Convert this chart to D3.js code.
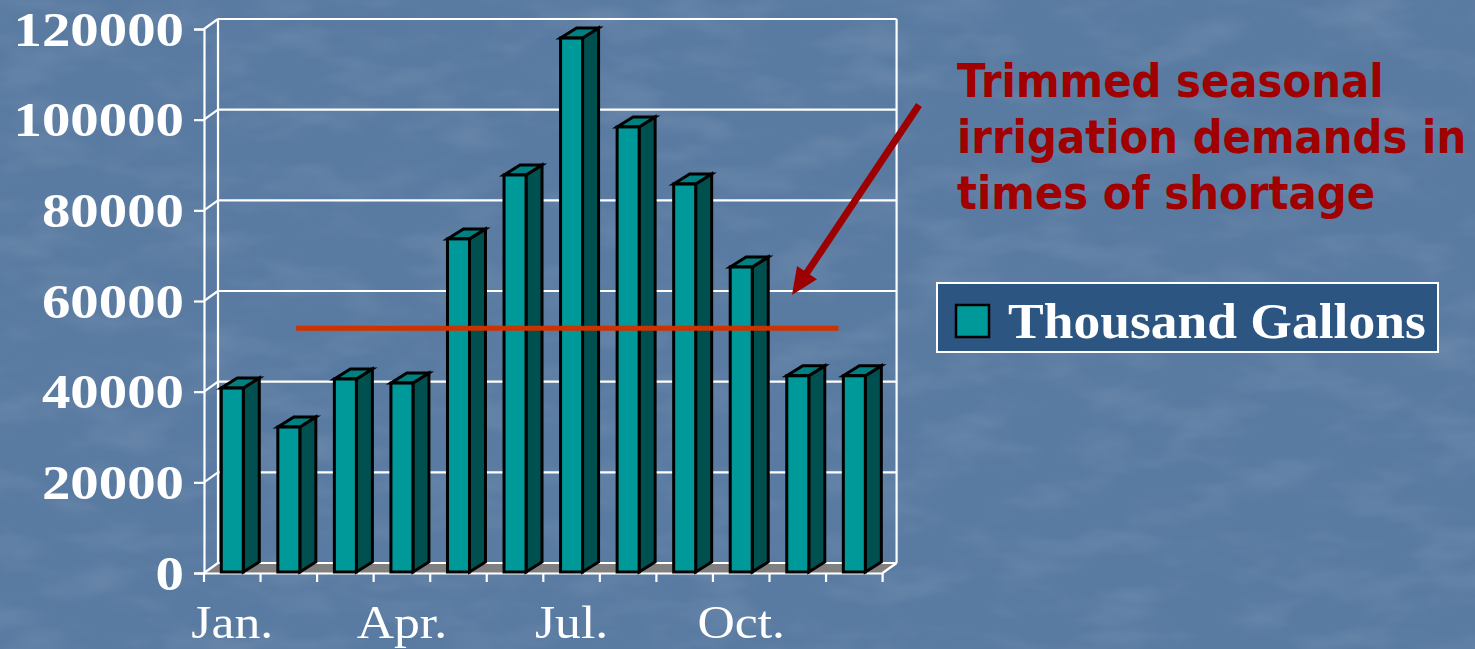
<!DOCTYPE html>
<html>
<head>
<meta charset="utf-8">
<script src="https://cdn.jsdelivr.net/npm/d3@7"></script>
<style>
  html, body { margin: 0; padding: 0; background: #5c7da4; }
  svg { display: block; }
</style>
</head>
<body>
<svg id="chart" width="1475" height="649"></svg>
<script>
// ---- data ----
const months = ["Jan.", "Feb.", "Mar.", "Apr.", "May", "Jun.", "Jul.", "Aug.", "Sep.", "Oct.", "Nov.", "Dec."];
const thousandGallons = [40800, 32200, 42800, 41900, 73700, 87800, 118000, 98400, 85800, 67500, 43500, 43500];
const yTicks = [0, 20000, 40000, 60000, 80000, 100000, 120000];
const xTickLabels = ["Jan.", "Apr.", "Jul.", "Oct."];
const seriesName = "Thousand Gallons";
const trimmedLevel = 54000;
const noteLines = ["Trimmed seasonal", "irrigation demands in", "times of shortage"];

// ---- layout ----
const svg = d3.select("#chart");
const X0 = 204, X1 = 882.6, Y0 = 573, Ytop = 29;
const wallD = { dx: 14, dy: -10 };
const barD = { dx: 16, dy: -10 };

const x = d3.scaleBand().domain(months).range([X0, X1]).paddingInner(0.611).paddingOuter(0.3055);
const y = d3.scaleLinear().domain([0, 120000]).range([Y0, Ytop]);
const step = x.step();

// background with subtle texture
const defs = svg.append("defs");
const f = defs.append("filter").attr("id", "tex").attr("x", 0).attr("y", 0).attr("width", "100%").attr("height", "100%");
f.append("feTurbulence").attr("type", "fractalNoise").attr("baseFrequency", "0.012 0.03").attr("numOctaves", 3).attr("seed", 7).attr("result", "n");
f.append("feColorMatrix").attr("in", "n").attr("type", "matrix")
  .attr("values", "0 0 0 0 1  0 0 0 0 1  0 0 0 0 1  0.9 0 0 0 -0.38");
svg.append("rect").attr("width", 1475).attr("height", 649).attr("fill", "#597aa1");
svg.append("rect").attr("width", 1475).attr("height", 649).attr("fill", "#ffffff").attr("filter", "url(#tex)").attr("opacity", 0.22);

const g = svg.append("g");

// floor
g.append("path")
  .attr("d", `M${X0},${Y0} L${X1},${Y0} L${X1 + wallD.dx},${Y0 + wallD.dy} L${X0 + wallD.dx},${Y0 + wallD.dy} Z`)
  .attr("fill", "#808080").attr("stroke", "none");

// back wall gridlines + outline
const wall = g.append("g").attr("stroke", "#ffffff").attr("stroke-width", 2.2).attr("fill", "none");
wall.selectAll("line.grid").data(yTicks).join("line")
  .attr("x1", X0 + wallD.dx).attr("x2", X1 + wallD.dx)
  .attr("y1", d => y(d) + wallD.dy).attr("y2", d => y(d) + wallD.dy);
wall.append("line").attr("x1", X0 + wallD.dx).attr("x2", X0 + wallD.dx)
  .attr("y1", y(120000) + wallD.dy).attr("y2", Y0 + wallD.dy);
wall.append("line").attr("x1", X1 + wallD.dx).attr("x2", X1 + wallD.dx)
  .attr("y1", y(120000) + wallD.dy).attr("y2", Y0 + wallD.dy);
// side wall diagonals
wall.selectAll("line.diag").data(yTicks).join("line")
  .attr("x1", X0).attr("x2", X0 + wallD.dx)
  .attr("y1", d => y(d)).attr("y2", d => y(d) + wallD.dy);
// floor right edge
wall.append("line").attr("x1", X1).attr("y1", Y0).attr("x2", X1 + wallD.dx).attr("y2", Y0 + wallD.dy);

// y axis (front)
const yAxis = d3.axisLeft(y).tickValues(yTicks).tickSize(10).tickFormat("");
const yAx = g.append("g").attr("transform", `translate(${X0},0)`).call(yAxis);
yAx.selectAll("path,line").attr("stroke", "#ffffff").attr("stroke-width", 2.2);

// x axis (front)
const xAxis = d3.axisBottom(x).tickSize(0).tickFormat("");
const xAx = g.append("g").attr("transform", `translate(0,${Y0})`).call(xAxis);
xAx.select("path").attr("stroke", "#ffffff").attr("stroke-width", 2.2);
xAx.selectAll(".tick").remove();
const boundaries = d3.range(months.length + 1).map(i => X0 + i * step);
g.append("g").selectAll("line").data(boundaries).join("line")
  .attr("x1", d => d).attr("x2", d => d).attr("y1", Y0).attr("y2", Y0 + 9)
  .attr("stroke", "#ffffff").attr("stroke-width", 2.2);

// y tick labels
g.append("g").selectAll("text").data(yTicks).join("text")
  .attr("transform", d => `translate(184,${y(d)}) scale(1.16,1)`)
  .attr("dy", "0.34em")
  .attr("text-anchor", "end")
  .attr("font-family", "'Liberation Serif', 'Times New Roman', serif")
  .attr("font-weight", "bold").attr("font-size", 49)
  .attr("fill", "#ffffff")
  .text(d => d);

// x tick labels
g.append("g").selectAll("text").data(xTickLabels).join("text")
  .attr("transform", d => `translate(${x(d) + x.bandwidth() / 2},638) scale(1.1,1)`)
  .attr("text-anchor", "middle")
  .attr("font-family", "'Liberation Serif', 'Times New Roman', serif")
  .attr("font-size", 47)
  .attr("fill", "#ffffff")
  .text(d => d);

// bars
const data = months.map((m, i) => ({ m, v: thousandGallons[i] }));
const bars = g.append("g").selectAll("g").data(data).join("g")
  .attr("stroke", "#000000").attr("stroke-width", 3).attr("stroke-linejoin", "miter");
const bw = x.bandwidth();
// side face
bars.append("path").attr("fill", "#005050").attr("d", d => {
  const xl = x(d.m) + bw, yt = y(d.v), yb = Y0 - 1;
  return `M${xl},${yb} L${xl + barD.dx},${yb + barD.dy} L${xl + barD.dx},${yt + barD.dy} L${xl},${yt} Z`;
});
// top face
bars.append("path").attr("fill", "#008080").attr("d", d => {
  const xl = x(d.m), yt = y(d.v);
  return `M${xl},${yt} L${xl + bw},${yt} L${xl + bw + barD.dx},${yt + barD.dy} L${xl + barD.dx},${yt + barD.dy} Z`;
});
// front face
bars.append("rect").attr("fill", "#009999")
  .attr("x", d => x(d.m)).attr("width", bw)
  .attr("y", d => y(d.v)).attr("height", d => Y0 - 1 - y(d.v));

// trimmed level line
g.append("line")
  .attr("x1", X0 + 1.63 * step).attr("x2", X0 + 11.22 * step)
  .attr("y1", y(trimmedLevel)).attr("y2", y(trimmedLevel))
  .attr("stroke", "#cc3300").attr("stroke-width", 5);

// arrow
const arrowColor = "#9c0000";
const ax0 = 919, ay0 = 105, ax1 = 792, ay1 = 295;
const ang = Math.atan2(ay1 - ay0, ax1 - ax0);
const headLen = 27, headHalf = 12;
const bx = ax1 - headLen * Math.cos(ang), by = ay1 - headLen * Math.sin(ang);
g.append("line").attr("x1", ax0).attr("y1", ay0).attr("x2", bx + 3 * Math.cos(ang)).attr("y2", by + 3 * Math.sin(ang))
  .attr("stroke", arrowColor).attr("stroke-width", 7);
const px = -Math.sin(ang), py = Math.cos(ang);
g.append("path")
  .attr("d", `M${ax1},${ay1} L${bx + headHalf * px},${by + headHalf * py} L${bx - headHalf * px},${by - headHalf * py} Z`)
  .attr("fill", arrowColor);

// annotation text
g.append("g").selectAll("text").data(noteLines).join("text")
  .attr("transform", (d, i) => `translate(957,${97 + i * 56}) scale(0.91,1)`)
  .attr("font-family", "'DejaVu Sans', Verdana, sans-serif")
  .attr("font-weight", "bold").attr("font-size", 46)
  .attr("fill", "#a00000")
  .text(d => d);

// legend
const lg = g.append("g");
lg.append("rect").attr("x", 937).attr("y", 283).attr("width", 501).attr("height", 69)
  .attr("fill", "#2c5582").attr("stroke", "#ffffff").attr("stroke-width", 2);
lg.append("rect").attr("x", 956).attr("y", 305).attr("width", 33).attr("height", 32)
  .attr("fill", "#009999").attr("stroke", "#000000").attr("stroke-width", 2.5);
lg.append("text")
  .attr("transform", "translate(1008,338) scale(1.07,1)")
  .attr("font-family", "'Liberation Serif', 'Times New Roman', serif")
  .attr("font-weight", "bold").attr("font-size", 50)
  .attr("fill", "#ffffff")
  .text(seriesName);
</script>
</body>
</html>
